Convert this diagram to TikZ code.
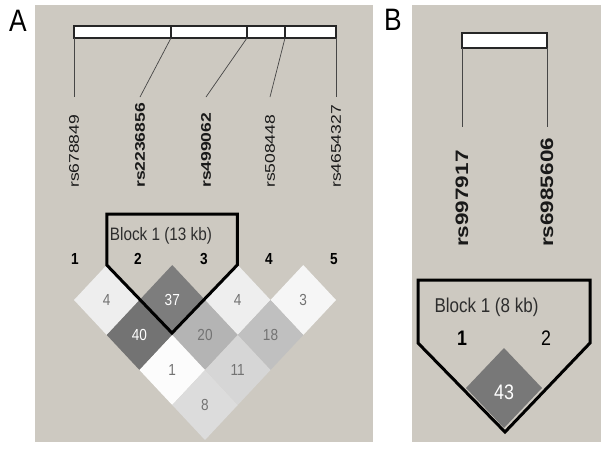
\documentclass[tikz,border=0pt]{standalone}
\usepackage{fontspec}
\setmainfont{Liberation Sans}
\usepackage{graphicx}

\definecolor{panelgray}{RGB}{205,201,193}
\definecolor{celltext}{RGB}{115,115,115}
\definecolor{linegray}{RGB}{70,70,70}
\definecolor{blocktext}{RGB}{45,45,45}

% squeezed text, as in the scanned figure
\newcommand{\hsq}[1]{\scalebox{0.85}[1]{#1}}
\newcommand{\vsq}[1]{\scalebox{1}[0.8]{#1}}

\tikzset{
  snp/.style={rotate=90, anchor=west, inner sep=0pt, text=black!90, font=\fontsize{17.5}{18}\selectfont},
  snpbold/.style={snp, font=\fontsize{17.5}{18}\selectfont\bfseries},
  snpbig/.style={snp, font=\fontsize{22.5}{23}\selectfont\bfseries},
  marker/.style={inner sep=0pt, font=\fontsize{16}{16}\selectfont\bfseries},
  cellnum/.style={inner sep=0pt, font=\fontsize{16}{16}\selectfont},
  blocklabel/.style={inner sep=0pt, text=blocktext},
  panel/.style={inner sep=0pt, font=\fontsize{31}{31}\selectfont},
  bar/.style={draw=black!85, fill=white, line width=1.2pt},
  snpline/.style={draw=linegray, line width=0.7pt},
  blockline/.style={draw=black, line width=3pt, line join=miter}
}

\begin{document}
\begin{tikzpicture}[x=1pt, y=-1pt]
    \useasboundingbox (0,0) rectangle (602,448);

        % Panels
        \fill[panelgray] (35,5) rectangle (373,442);
        \fill[panelgray] (412,5) rectangle (601,442);
        \node[panel] (A) at (18,21) {\hsq{A}};
        \node[panel] (B) at (393,20) {\hsq{B}};

        % Panel A: marker bar
        \draw[bar] (74,26) rectangle (336,38);
        \foreach \x in {171,247,285}
            \draw[line width=1.2pt, black!85] (\x,26) -- (\x,38);

        % Panel A: marker lines
        \foreach \n/\bx/\ex in {1/74/74, 2/171/140, 3/247/206, 4/285/270, 5/336/336} {
            \coordinate (b\n) at (\bx,38);
            \coordinate (e\n) at (\ex,97);
            \draw[snpline] (b\n) -- (e\n);
        }

        % Panel A: SNP names
        \node[snp] (l1) at (74,188) {\vsq{rs678849}};
        \node[snpbold] (l2) at (140,188) {\vsq{rs2236856}};
        \node[snpbold] (l3) at (206,188) {\vsq{rs499062}};
        \node[snp] (l4) at (270,188) {\vsq{rs508448}};
        \node[snp] (l5) at (336,188) {\vsq{rs4654327}};

        % Panel A: marker numbers
        \foreach \n/\x in {1/75, 2/138, 3/204, 4/269, 5/334}
            \node[marker] (m\n) at (\x,259) {\hsq{\n}};

        % Panel A: LD cells
        \foreach \i/\j/\r/\g/\tc in {1/2/4/238/celltext, 2/3/37/125/white, 3/4/4/238/celltext,
                4/5/3/246/celltext, 1/3/40/115/white, 2/4/20/180/celltext, 3/5/18/192/celltext,
                1/4/1/252/celltext, 2/5/11/214/celltext, 1/5/8/220/celltext} {
            \pgfmathsetmacro{\cx}{74+32.75*(\i+\j-2)}
            \pgfmathsetmacro{\cy}{265+35*(\j-\i)}
            \fill[fill={rgb,255:red,\g;green,\g;blue,\g}] (\cx-32.75,\cy) -- (\cx,\cy-35) -- (\cx+32.75,\cy) -- (\cx,\cy+35) -- cycle;
            \node[cellnum, text=\tc] (c\i\j) at (\cx,\cy) {\hsq{\r}};
        }

        % Panel A: block
        \draw[blockline] (106.75,214) -- (237.25,214) -- (237.25,265) -- (172,333) -- (106.75,265) -- cycle;
        \node[blocklabel, font=\fontsize{18}{18}\selectfont] (blockA) at (161,236) {\hsq{Block 1 (13 kb)}};

        % Panel B: marker bar and lines
        \draw[bar] (462,33) rectangle (547,48);
        \coordinate (bb1) at (462,48);
        \coordinate (eb1) at (462,127);
        \coordinate (bb2) at (547,48);
        \coordinate (eb2) at (547,127);
        \draw[snpline] (bb1) -- (eb1);
        \draw[snpline] (bb2) -- (eb2);

        % Panel B: SNP names
        \node[snpbig] (lb1) at (462,247) {\vsq{rs997917}};
        \node[snpbig] (lb2) at (547,247) {\vsq{rs6985606}};

        % Panel B: LD cell and block
        \fill[fill={rgb,255:red,120;green,120;blue,120}] (466,388) -- (504,348) -- (542,388) -- (504,428) -- cycle;
        \node[cellnum, text=white, font=\fontsize{21}{21}\selectfont] (cb12) at (504,392) {\hsq{43}};
        \draw[blockline] (418,280) -- (590,280) -- (590,343) -- (505,432) -- (418,343) -- cycle;
        \node[blocklabel, font=\fontsize{20}{20}\selectfont] (blockB) at (486.5,307) {\hsq{Block 1 (8 kb)}};
        \node[marker, font=\fontsize{21}{21}\selectfont\bfseries] (mb1) at (462,338) {\hsq{1}};
        \node[marker, font=\fontsize{21}{21}\selectfont] (mb2) at (546,338) {\hsq{2}};

\end{tikzpicture}
\end{document}
